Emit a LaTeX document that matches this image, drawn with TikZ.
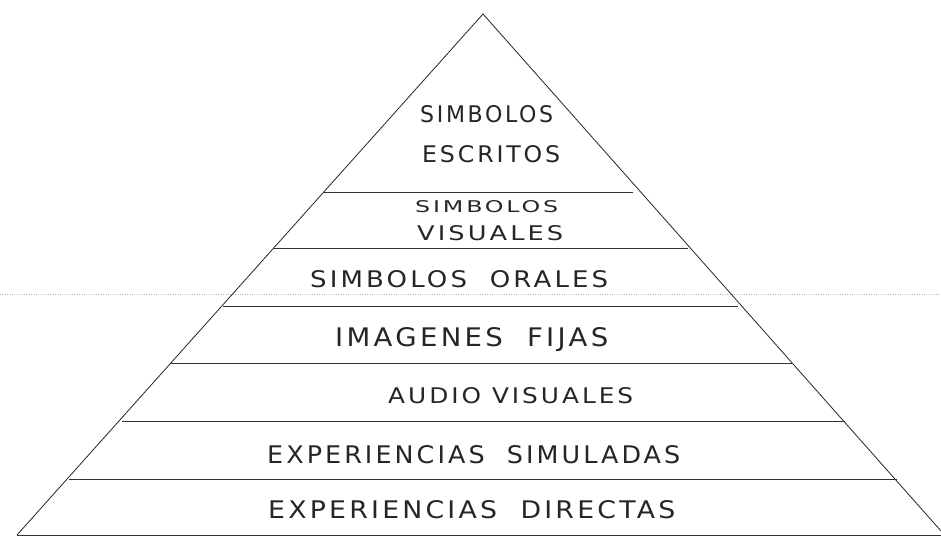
\documentclass[tikz,border=0pt]{standalone}
\usepackage{fontspec}
\usepackage{graphicx}
\newfontfamily\handfont[LetterSpace=12]{DejaVu Sans}
\newcommand{\hlab}[3]{\resizebox{#1pt}{#2pt}{\handfont #3}}
\begin{document}
\begin{tikzpicture}[x=1pt,y=-1pt,
  edge/.style={draw=black!85, line width=0.8pt},
  band/.style={draw=black!80, line width=0.9pt},
  scanline/.style={draw=gray!55, dotted, line width=0.4pt},
  lbl/.style={anchor=base west, inner sep=0pt, text=black!85}]
\useasboundingbox (0,0) rectangle (941,538);
\fill[white] (0,0) rectangle (941,538);
% scan artifact
\coordinate (sL) at (0,294);
\coordinate (sR) at (941,294);
\draw[scanline] (sL) -- (sR);
% pyramid outline
\coordinate (apex) at (483,14);
\coordinate (bl) at (17,535);
\coordinate (br) at (941,531);
\coordinate (bbr) at (941,535);
\draw[edge] (bl) -- (apex) -- (br);
\draw[band] (bl) -- (bbr);
% horizontal bands
\coordinate (l1a) at (323,192); \coordinate (l1b) at (633,192);
\coordinate (l2a) at (273,248); \coordinate (l2b) at (688,248);
\coordinate (l3a) at (223,306); \coordinate (l3b) at (738,306);
\coordinate (l4a) at (171,363); \coordinate (l4b) at (792,363);
\coordinate (l5a) at (122,421); \coordinate (l5b) at (845,421);
\coordinate (l6a) at (69,479);  \coordinate (l6b) at (897,479);
\foreach \i in {1,...,6} {\draw[band] (l\i a) -- (l\i b);}
% labels
\node[lbl] (t1a) at (420,122) {\hlab{133}{17}{SIMBOLOS}};
\node[lbl] (t1b) at (422,162) {\hlab{138}{17}{ESCRITOS}};
\node[lbl] (t2a) at (415,212) {\hlab{143}{12}{SIMBOLOS}};
\node[lbl] (t2b) at (417,240) {\hlab{146}{15}{VISUALES}};
\node[lbl] (t3) at (310,287) {\hlab{298}{17}{SIMBOLOS\ \ ORALES}};
\node[lbl] (t4) at (335,346) {\hlab{273}{19}{IMAGENES\ \ FIJAS}};
\node[lbl] (t5) at (388,403) {\hlab{245}{16}{AUDIO VISUALES}};
\node[lbl] (t6) at (267,463) {\hlab{413}{18}{EXPERIENCIAS\ \ SIMULADAS}};
\node[lbl] (t7) at (268,518) {\hlab{407}{18}{EXPERIENCIAS\ \ DIRECTAS}};
\end{tikzpicture}
\end{document}
